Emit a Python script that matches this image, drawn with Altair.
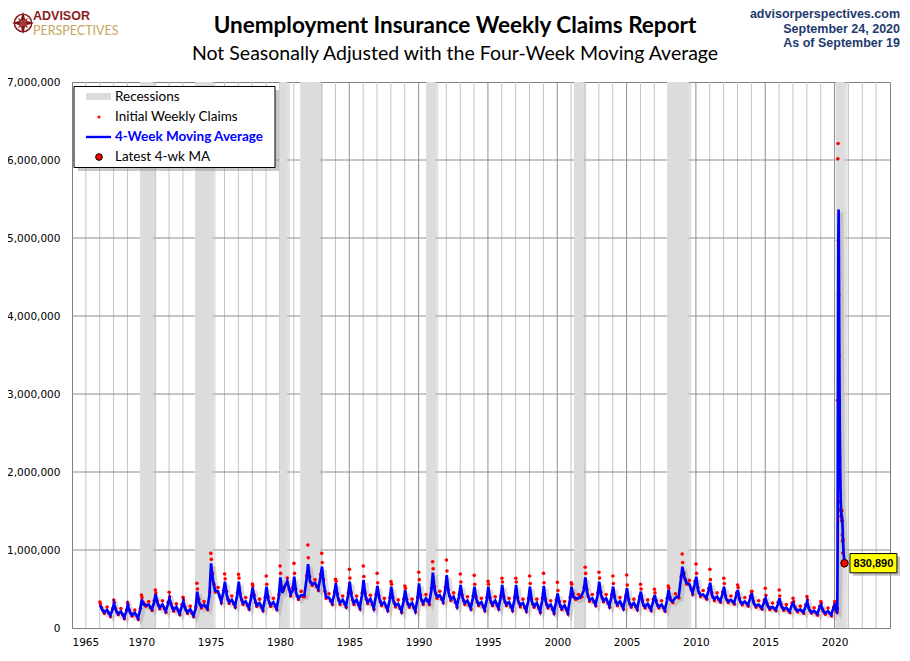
import altair as alt
import pandas as pd

# ---------------- data (thousands) ----------------
years = list(range(1967, 2020))

# 4-week moving average at six points of each year (week of year)
ma_weeks = [2, 9, 17, 28, 40, 48]
ma_jan = [295,316,295,367,436,380,338,466,829,594, 594,521,530,650,658,820,786,573,594,615,
          538,530,487,573,709,679,551,530,530,551, 551,530,538,444,530,650,594,530,509,466,
          423,487,786,658,581,530,487,444,380,380, 316,338,295]
ma_mar = [240,230,210,300,320,290,250,330,620,420, 400,380,360,450,450,600,560,400,410,410,
          380,360,340,380,480,450,390,370,360,370, 360,340,340,310,400,450,420,370,340,320,
          320,360,650,480,420,380,350,320,290,280, 250,240,220]
ma_may = [200,180,165,290,260,230,200,270,480,330, 320,290,290,520,380,560,400,320,320,330,
          300,290,280,320,400,370,320,300,300,300, 290,280,270,250,380,360,350,300,280,270,
          270,340,580,420,370,340,310,280,250,240, 220,200,190]
ma_jul = [230,210,195,300,300,270,240,300,470,360, 340,320,330,600,420,580,390,360,360,370,
          330,310,320,380,420,400,350,330,350,330, 320,320,300,290,380,380,380,340,320,310,
          300,390,560,430,400,360,340,300,270,260, 240,220,215]
ma_oct = [160,135,125,240,215,185,160,250,340,280, 255,235,250,430,420,500,320,280,260,255,
          235,215,220,320,340,280,255,235,255,235, 225,215,200,195,420,300,280,255,245,235,
          230,400,450,385,345,320,295,255,235,210, 200,180,170]
ma_dec = [230,210,230,320,300,270,240,420,450,420, 380,360,400,480,620,640,430,420,420,400,
          360,340,360,470,480,400,380,360,380,360, 350,350,330,360,480,420,400,380,370,340,
          350,620,560,480,430,420,380,330,300,290, 280,260,250]

# initial weekly claims at nine points of each year (week of year)
claim_weeks = [1, 3, 8, 13, 18, 28, 35, 41, 49]
c_w1 = [333,359,325,423,487,457,393,573,957,692, 688,564,667,795,829,1064,957,624,752,795,
        701,594,538,714,850,872,692,675,598,637, 637,667,701,585,581,778,714,667,680,560,
        496,538,949,821,752,637,551,466,509,487, 380,402,338]
c_w3 = [310,330,300,390,450,400,360,500,880,630, 640,540,560,700,700,900,840,600,640,660,
        580,560,510,620,760,730,590,560,560,590, 590,570,580,480,560,700,640,570,550,500,
        450,510,840,700,620,570,520,470,420,410, 340,360,320]
c_w8 = [260,250,230,330,350,310,270,370,700,470, 440,420,400,500,500,660,620,440,450,450,
        410,390,370,420,530,490,420,400,390,400, 390,370,370,340,440,490,460,400,370,350,
        350,390,700,520,450,410,380,340,310,300, 270,260,240]
c_w13 = [220,205,190,300,290,260,225,300,560,370, 360,330,320,480,410,580,470,360,360,370,
         335,320,305,350,440,410,350,330,325,330, 320,305,300,275,390,400,385,330,305,290,
         290,350,620,450,390,360,330,300,270,260, 235,220,205]
c_w18 = [185,170,150,280,245,215,185,255,460,315, 300,275,275,530,365,545,380,300,300,310,
         285,270,265,300,380,350,300,285,285,285, 270,265,255,235,365,340,335,285,265,255,
         255,325,560,400,350,325,295,265,235,225, 205,190,175]
c_w28 = [270,250,230,340,350,310,280,340,520,410, 390,370,380,640,470,620,440,410,410,420,
         380,360,370,430,470,450,400,380,400,380, 370,370,350,340,430,430,430,390,370,360,
         350,440,610,480,450,410,390,350,320,300, 280,260,255]
c_w35 = [190,170,160,260,250,220,190,270,400,310, 290,270,280,500,400,530,340,310,300,300,
         270,250,260,340,370,330,290,270,290,270, 260,255,240,235,390,330,320,290,275,265,
         260,400,490,400,360,335,310,270,245,225, 215,195,185]
c_w41 = [145,120,110,225,200,170,145,235,320,265, 240,220,235,410,400,480,300,265,245,240,
         220,200,205,300,320,265,240,220,240,220, 210,200,185,180,400,285,265,240,230,220,
         215,385,430,370,330,305,280,240,220,195, 185,165,155]
c_w49 = [250,230,250,350,330,300,270,460,480,450, 410,390,430,520,670,690,460,450,450,430,
         390,370,390,510,520,430,410,390,410,390, 380,380,360,390,520,450,430,410,400,370,
         380,660,600,510,460,450,410,360,330,320, 300,280,270]

# 2020, weekly
dates_2020 = ["2020-01-04","2020-01-11","2020-01-18","2020-02-01","2020-02-15","2020-02-29",
              "2020-03-07","2020-03-14","2020-03-21","2020-03-28","2020-04-04","2020-04-11",
              "2020-04-18","2020-04-25","2020-05-02","2020-05-09","2020-05-16","2020-05-23",
              "2020-05-30","2020-06-06","2020-06-13","2020-06-20","2020-06-27","2020-07-04",
              "2020-07-11","2020-07-18","2020-07-25","2020-08-01","2020-08-08","2020-08-15",
              "2020-08-22","2020-08-29","2020-09-05","2020-09-12","2020-09-19"]
claims_2020 = [338,300,270,250,215,210,200,251,2920,6015,6211,4971,4267,3490,2849,2386,2174,
               1897,1617,1519,1500,1437,1422,1377,1507,1367,1192,1112,961,1134,836,823,867,
               796,825]
ma_2020 = [300,316,290,260,230,215,210,225,905,2347,3849,5029,5366,4735,3894,3248,2725,2327,
           2019,1802,1633,1518,1470,1434,1436,1418,1361,1295,1158,1100,1011,939,915,880,830.89]

rec_start = [1969.92, 1973.87, 1979.96, 1981.46, 1990.54, 2001.21, 2007.92, 2020.08]
rec_end = [1970.85, 1975.14, 1980.50, 1982.88, 1991.21, 2001.88, 2009.46, 2020.72]

minor_years = [y for y in range(1966, 2024) if y % 5 != 0]
major_years = [y for y in range(1966, 2024) if y % 5 == 0]
million_lines = [1000000, 2000000, 3000000, 4000000, 5000000, 6000000]
x_labels = list(range(1965, 2021, 5))
y_labels = [0, 1000000, 2000000, 3000000, 4000000, 5000000, 6000000, 7000000]

# ---------------- build tables ----------------
ma_cols = [ma_jan, ma_mar, ma_may, ma_jul, ma_oct, ma_dec]
cl_cols = [c_w1, c_w3, c_w8, c_w13, c_w18, c_w28, c_w35, c_w41, c_w49]
ma_rows, cl_rows = [], []
for i, y in enumerate(years):
    for w, col in zip(ma_weeks, ma_cols):
        ma_rows.append({"t": y + (w - 0.5) / 52.0, "v": col[i] * 1000})
    for w, col in zip(claim_weeks, cl_cols):
        cl_rows.append({"t": y + (w - 0.5) / 52.0, "v": col[i] * 1000})
d20 = pd.to_datetime(pd.Series(dates_2020))
t20 = 2020 + (d20.dt.dayofyear - 1) / 366.0
for t, c, m in zip(t20, claims_2020, ma_2020):
    ma_rows.append({"t": t, "v": m * 1000})
    cl_rows.append({"t": t, "v": c * 1000})
ma_df = pd.DataFrame(ma_rows).sort_values("t")
cl_df = pd.DataFrame(cl_rows).sort_values("t")
latest_df = ma_df.tail(1).copy()
rec_df = pd.DataFrame({"s": rec_start, "e": rec_end})

W, H = 818, 546
xs = alt.Scale(domain=[1965, 2024], nice=False, zero=False)
ys = alt.Scale(domain=[0, 7000000], nice=False, zero=True)
X_AX = alt.Axis(values=x_labels, labelExpr="format(datum.value, 'd')", grid=False, ticks=False,
                domainColor="#7f7f7f", labelPadding=9, labelFont="DejaVu Sans",
                labelFontSize=10.5, labelColor="#000000", title=None)
Y_AX = alt.Axis(values=y_labels, labelExpr="format(datum.value, ',')", grid=False, ticks=False,
                domainColor="#7f7f7f", labelPadding=12, labelFont="DejaVu Sans",
                labelFontSize=10.5, labelColor="#000000", title=None)
one = pd.DataFrame({"a": [0]})

def X(f):
    return alt.X(f, scale=xs, axis=X_AX, title=None)

def Y(f):
    return alt.Y(f, scale=ys, axis=Y_AX, title=None)

def vrules(vals, color):
    return alt.Chart(pd.DataFrame({"t": vals})).mark_rule(color=color, strokeWidth=1).encode(
        x=X("t:Q"), y=alt.value(0), y2=alt.value(H))

grid_minor = vrules(minor_years, "#c4c4c4")
grid_major = vrules(major_years, "#8e8e8e")
grid_h = alt.Chart(pd.DataFrame({"v": million_lines})).mark_rule(color="#8e8e8e", strokeWidth=1).encode(
    y=Y("v:Q"), x=alt.value(0), x2=alt.value(W))

rec_shadow = alt.Chart(rec_df).mark_rect(color="#bdbdbd", opacity=0.45, xOffset=3, x2Offset=3).encode(
    x=X("s:Q"), x2="e:Q", y=alt.value(0), y2=alt.value(H))
rec = alt.Chart(rec_df).mark_rect(color="#dcdcdc").encode(
    x=X("s:Q"), x2="e:Q", y=alt.value(0), y2=alt.value(H))

ma_shadow = alt.Chart(ma_df).mark_line(color="#8a8a8a", opacity=0.3, strokeWidth=3.5,
                                       xOffset=3, yOffset=3).encode(x=X("t:Q"), y=Y("v:Q"))

dots = alt.Chart(cl_df).mark_circle(color="#ff0000", size=13, opacity=1).encode(
    x=X("t:Q"), y=Y("v:Q"))

ma_line = alt.Chart(ma_df).mark_line(color="#0000ff", strokeWidth=2.7).encode(
    x=X("t:Q"), y=Y("v:Q"))

latest = alt.Chart(latest_df).mark_point(shape="circle", filled=True, fill="#ff0000",
                                          stroke="#000000", strokeWidth=1, size=55, opacity=1).encode(
    x=X("t:Q"), y=Y("v:Q"))

box_path = "M-1,-0.41L1,-0.41L1,0.41L-1,0.41Z"
ann_shadow = alt.Chart(latest_df).mark_point(shape=box_path, filled=True, fill="#9a9a9a",
                                              opacity=0.6, size=2209, xOffset=32, yOffset=3,
                                              strokeWidth=0).encode(x=X("t:Q"), y=Y("v:Q"))
ann_box = alt.Chart(latest_df).mark_point(shape=box_path, filled=True, fill="#ffff00",
                                           stroke="#000000", strokeWidth=1, opacity=1,
                                           size=2209, xOffset=29).encode(x=X("t:Q"), y=Y("v:Q"))
ann_text = alt.Chart(latest_df).mark_text(font="Liberation Sans", fontWeight="bold", fontSize=11,
                                           color="#000000", align="center", baseline="middle",
                                           dx=29, dy=0.5).encode(
    x=X("t:Q"), y=Y("v:Q"), text=alt.Text("v:Q", format=",.0f"))

def txt(s, x, y, size, color="#000000", weight="normal", align="left", font="Lato",
        baseline="alphabetic"):
    return alt.Chart(one).mark_text(text=s, font=font, fontSize=size, fontWeight=weight,
                                    color=color, align=align, baseline=baseline).encode(
        x=alt.value(x), y=alt.value(y))

def box(x1, x2, y1, y2, fill, stroke=None, opacity=1.0):
    kw = dict(fill=fill, opacity=opacity)
    if stroke:
        kw.update(stroke=stroke, strokeWidth=1)
    return alt.Chart(one).mark_rect(**kw).encode(
        x=alt.value(x1), x2=alt.value(x2), y=alt.value(y1), y2=alt.value(y2))

# legend (pixel positions relative to plot area)
leg = [
    box(6, 207, 8, 89, "#9a9a9a", opacity=0.55),
    box(2, 203, 4.5, 85.5, "#ffffff", stroke="#000000"),
    box(14, 39, 11, 18, "#dcdcdc"),
    txt("Recessions", 43, 15, 13.5, baseline="middle"),
    alt.Chart(one).mark_circle(color="#ff0000", size=10, opacity=1).encode(
        x=alt.value(27), y=alt.value(35)),
    txt("Initial Weekly Claims", 43, 35, 13.5, baseline="middle"),
    alt.Chart(one).mark_rule(color="#0000ff", strokeWidth=2.4).encode(
        x=alt.value(14), x2=alt.value(39), y=alt.value(55)),
    txt("4-Week Moving Average", 43, 55, 13.5, color="#0000ff", weight="bold", baseline="middle"),
    alt.Chart(one).mark_point(shape="circle", filled=True, fill="#ff0000", stroke="#000000",
                              strokeWidth=1, size=45, opacity=1).encode(
        x=alt.value(27), y=alt.value(75)),
    txt("Latest 4-wk MA", 43, 75, 13.5, baseline="middle"),
]

navy = "#1f3a6e"
heads = [
    txt("Unemployment Insurance Weekly Claims Report", 383, -49, 22.5, weight="bold", align="center"),
    txt("Not Seasonally Adjusted with the Four-Week Moving Average", 383, -22, 19.5, align="center"),
    txt("advisorperspectives.com", 828, -64, 12.5, color=navy, weight="bold", align="right",
        font="Liberation Sans"),
    txt("September 24, 2020", 828, -49.5, 12.5, color=navy, weight="bold", align="right",
        font="Liberation Sans"),
    txt("As of September 19", 828, -35.5, 12.5, color=navy, weight="bold", align="right",
        font="Liberation Sans"),
    txt("ADVISOR", -39, -62.5, 12.5, color="#8b1c1c", weight="bold", font="Liberation Sans"),
    txt("PERSPECTIVES", -39, -47.5, 12.5, color="#c6a562", font="Lato"),
    alt.Chart(one).mark_point(shape="circle", filled=False, stroke="#8b1c1c", strokeWidth=1.5,
                              size=300, opacity=1).encode(x=alt.value(-49), y=alt.value(-59)),
    alt.Chart(one).mark_point(
        shape="M0,-1L0.22,-0.22L1,0L0.22,0.22L0,1L-0.22,0.22L-1,0L-0.22,-0.22Z",
        filled=True, fill="#7a1616", size=500, opacity=1, strokeWidth=0).encode(
        x=alt.value(-49), y=alt.value(-59)),
    alt.Chart(one).mark_point(
        shape="M0,-1L0.3,-0.3L1,0L0.3,0.3L0,1L-0.3,0.3L-1,0L-0.3,-0.3Z",
        filled=True, fill="#a83a3a", size=200, opacity=1, strokeWidth=0, angle=45).encode(
        x=alt.value(-49), y=alt.value(-59)),
]

chart = alt.layer(
    grid_minor, grid_major, grid_h, rec_shadow, rec, ma_shadow, dots, ma_line, latest,
    ann_shadow, ann_box, ann_text, *leg, *heads
).properties(
    width=W, height=H,
    autosize=alt.AutoSizeParams(type="none"),
    padding={"left": 64, "top": 74, "right": 12, "bottom": 25},
    background="#ffffff",
).configure_view(stroke="#7f7f7f", strokeWidth=1)

chart.save("out.html", embed_options={"renderer": "svg", "actions": False})
